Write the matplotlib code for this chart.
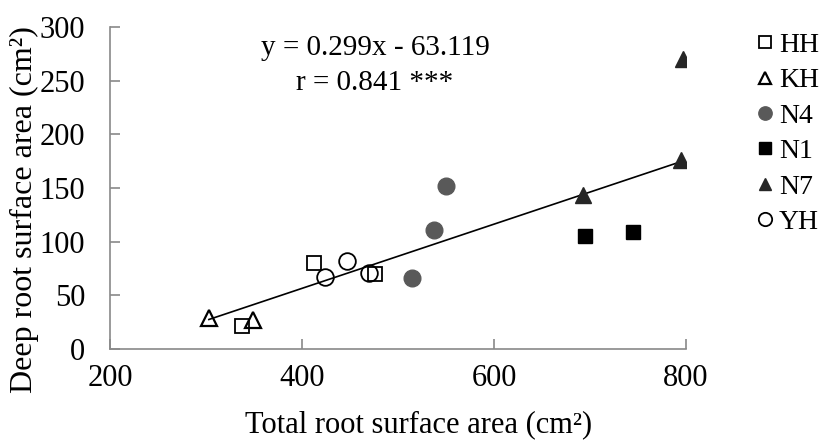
import numpy as np
import matplotlib
matplotlib.use("Agg")
import matplotlib.pyplot as plt

plt.rcParams["font.family"] = ["Liberation Serif", "DejaVu Serif"]

# Points
hh_x = [337, 412, 476]
hh_y = [21, 80, 70]
kh_x = [303, 349]
kh_y = [29, 27]
n4_x = [515, 538, 550]
n4_y = [66, 111, 152]
n1_x = [695, 745]
n1_y = [105, 109]
n7_x = [693, 795, 797]
n7_y = [143, 176, 270]
yh_x = [424, 447, 470]
yh_y = [67, 82, 71]

slope = 0.299
intercept = -63.119
fit_x = [303, 797]

fig = plt.figure(figsize=(8.24, 4.43), dpi=100)
ax = fig.add_axes([0.1335, 0.2122, 0.699, 0.727])

ax.plot(fit_x, [slope * v + intercept for v in fit_x], color="black", lw=1.2, zorder=1)

ax.plot(hh_x, hh_y, "s", ms=10, mfc="white", mec="black", mew=1.3, ls="none", label="HH")
ax.plot(kh_x, kh_y, "^", ms=11, mfc="none", mec="black", mew=1.6, ls="none", label="KH")
ax.plot(n4_x, n4_y, "o", ms=12, mfc="#595959", mec="#595959", ls="none", label="N4")
ax.plot(n1_x, n1_y, "s", ms=10, mfc="black", mec="black", ls="none", label="N1")
ax.plot(n7_x, n7_y, "^", ms=11, mfc="#262626", mec="#262626", ls="none", label="N7")
ax.plot(yh_x, yh_y, "o", ms=12, mfc="none", mec="black", mew=1.3, ls="none", label="YH")

ax.set_xlim(200, 800)
ax.set_ylim(0, 300)
ax.set_xticks([200, 400, 600, 800])
ax.set_yticks([0, 50, 100, 150, 200, 250, 300])

for s in ["top", "right"]:
    ax.spines[s].set_visible(False)
for s in ["left", "bottom"]:
    ax.spines[s].set_color("#898989")
    ax.spines[s].set_linewidth(1.2)

ax.tick_params(axis="both", direction="in", length=7, width=1.2, color="#898989",
               labelsize=22)
ax.tick_params(axis="x", pad=11)
ax.tick_params(axis="y", pad=18)

ax.set_xlabel("Total root surface area (cm²)", fontsize=22)
ax.set_ylabel("Deep root surface area (cm²)", fontsize=23)
ax.xaxis.set_label_coords(0.536, -0.19)
ax.yaxis.set_label_coords(-0.124, 0.432)

# regression equation and correlation
ax.text(476, 280, "y = 0.299x - 63.119", fontsize=21, ha="center", va="center")
ax.text(476, 248, "r = 0.841 ***", fontsize=21, ha="center", va="center")

fig.legend(loc="upper left", bbox_to_anchor=(0.905, 0.952), frameon=False,
           fontsize=20, markerscale=0.8, handlelength=0.6, handletextpad=0.2,
           labelspacing=0.36, borderaxespad=0)

fig.savefig("out.png", dpi=100)
